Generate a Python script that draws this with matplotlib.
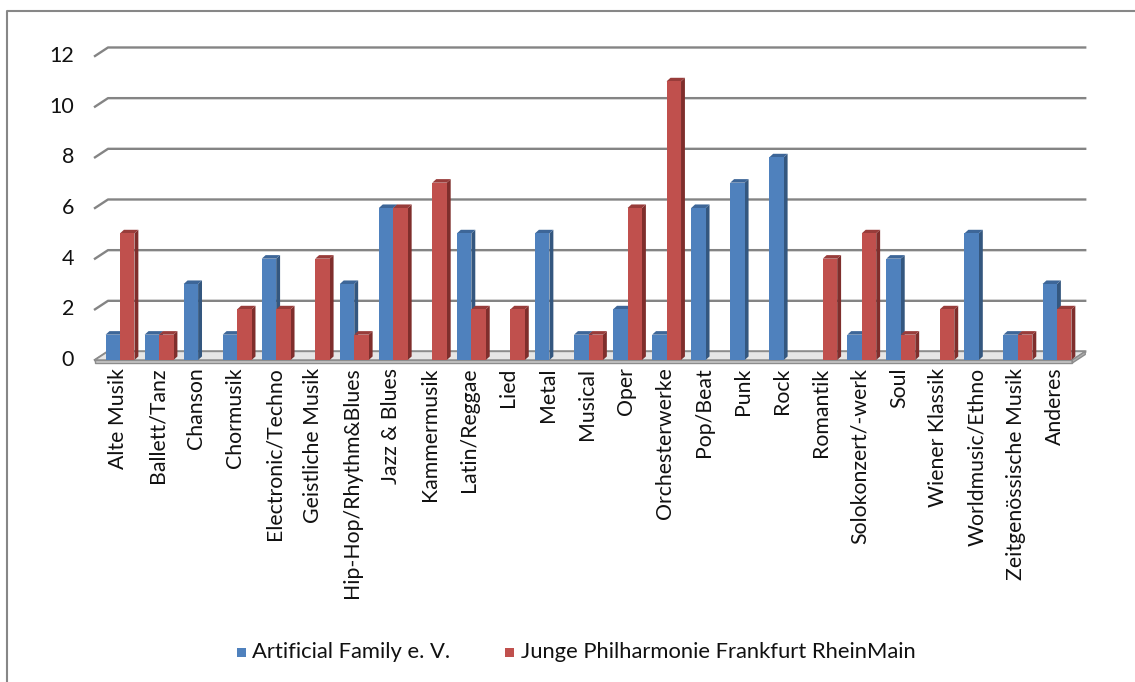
import matplotlib.pyplot as plt
from matplotlib.patches import Polygon, Rectangle

# Genres and counts for both ensembles
categories = [
    "Alte Musik", "Ballett/Tanz", "Chanson", "Chormusik", "Electronic/Techno",
    "Geistliche Musik", "Hip-Hop/Rhythm&Blues", "Jazz & Blues", "Kammermusik",
    "Latin/Reggae", "Lied", "Metal", "Musical", "Oper", "Orchesterwerke",
    "Pop/Beat", "Punk", "Rock", "Romantik", "Solokonzert/-werk", "Soul",
    "Wiener Klassik", "Worldmusic/Ethno", "Zeitgenössische Musik", "Anderes",
]
artificial = [1, 1, 3, 1, 4, 0, 3, 6, 0, 5, 0, 5, 1, 2, 1, 6, 7, 8, 0, 1, 4, 0, 5, 1, 3]
junge = [5, 1, 0, 2, 2, 4, 1, 6, 7, 2, 2, 0, 1, 6, 11, 0, 0, 0, 4, 5, 1, 2, 0, 1, 2]
series_names = ["Artificial Family e. V.", "Junge Philharmonie Frankfurt RheinMain"]
y_ticks = [0, 2, 4, 6, 8, 10, 12]

plt.rcParams['font.family'] = ['Lato', 'DejaVu Sans']

# face colours: front, side, top
blue = ("#4f81bd", "#34577f", "#3d6698")
red = ("#c0504d", "#7f2e2c", "#983c3a")

W, H = 1135, 682
fig = plt.figure(figsize=(W / 100, H / 100), dpi=100)
ax = fig.add_axes([100.5 / W, 1 - 360 / H, 976 / W, 304 / H])
ax.set_xlim(-0.5, 24.5)
ax.set_ylim(0, 12)
ax.axis('off')

# pseudo-3D depth of the back wall and of the columns (data units)
wall_dx, wall_dy = 0.333, 0.336
bar_dx, bar_dy = 0.10, 0.14
bar_w = 0.37
x_left = -0.641
x_right = 24.39

# back wall gridlines with the slanted piece on the side wall
for v in y_ticks:
    ax.plot([x_left, x_left + wall_dx, x_right + wall_dx], [v, v + wall_dy, v + wall_dy],
            color="#848484", lw=1.7, clip_on=False, zorder=1)
    ax.text(-1.18, v, str(v), ha='right', va='center', fontsize=15.5, color="#111111")

# floor slab
slab = 0.12
ax.add_patch(Polygon([(x_left, 0), (x_right, 0), (x_right + wall_dx, wall_dy),
                      (x_left + wall_dx, wall_dy)], closed=True,
                     facecolor="#e6e6e6", edgecolor="#8c8c8c", lw=1, clip_on=False, zorder=2))
ax.add_patch(Polygon([(x_left, 0), (x_right, 0), (x_right, -slab), (x_left, -slab)],
                     closed=True, facecolor="#c8c8c8", edgecolor="#8c8c8c", lw=1,
                     clip_on=False, zorder=2))
ax.add_patch(Polygon([(x_right, 0), (x_right + wall_dx, wall_dy),
                      (x_right + wall_dx, wall_dy - slab), (x_right, -slab)],
                     closed=True, facecolor="#b0b0b0", edgecolor="#8c8c8c", lw=1,
                     clip_on=False, zorder=2))


def column(x0, h, cols):
    if h <= 0:
        return
    front, side, top = cols
    ax.add_patch(Polygon([(x0 + bar_w, 0), (x0 + bar_w + bar_dx, bar_dy),
                          (x0 + bar_w + bar_dx, h + bar_dy), (x0 + bar_w, h)],
                         closed=True, facecolor=side, edgecolor='none', zorder=3))
    ax.add_patch(Polygon([(x0, h), (x0 + bar_w, h), (x0 + bar_w + bar_dx, h + bar_dy),
                          (x0 + bar_dx, h + bar_dy)],
                         closed=True, facecolor=top, edgecolor='none', zorder=3))
    ax.add_patch(Rectangle((x0, 0), bar_w, h, facecolor=front, edgecolor='none', zorder=3))


for i, cat in enumerate(categories):
    column(i - bar_w, artificial[i], blue)
    column(i, junge[i], red)
    ax.text(i - 0.05, -0.3, cat, rotation=90, ha='center', va='top',
            fontsize=15.3, color="#111111")

# legend
for (x_sq, x_txt), name, cols in zip([(237, 252), (505, 521)], series_names, [blue, red]):
    fig.patches.append(Rectangle((x_sq / W, 1 - 657 / H), 9 / W, 9 / H,
                                 transform=fig.transFigure, facecolor=cols[0],
                                 edgecolor='none'))
    fig.text(x_txt / W, 1 - 652 / H, name, ha='left', va='center', fontsize=15.8,
             color="#111111")

# chart border (left and top edges only)
fig.add_artist(plt.Line2D([7 / W, 7 / W, 1], [0, 1 - 11 / H, 1 - 11 / H],
                          transform=fig.transFigure, color="#878787", lw=1.5))

fig.savefig("out.png", dpi=100, facecolor="white")
